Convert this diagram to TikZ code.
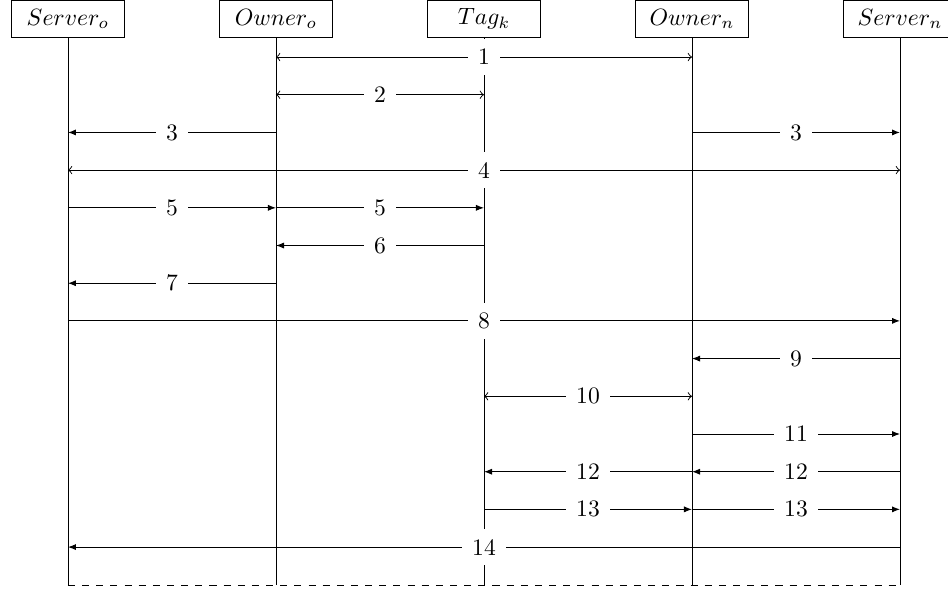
\documentclass[tikz,border=0pt]{standalone}
\usepackage{tikz}
\usetikzlibrary{arrows.meta, calc}
\usepackage{amsmath}

\begin{document}
\begin{tikzpicture}[>=to,
    party/.style={draw, rectangle, minimum width=1.68cm, minimum height=0.55cm, inner sep=0pt},
    num/.style={fill=white, inner sep=4.3pt},
    one/.style={-{Latex[length=3.4pt, width=2.6pt]}},
    both/.style={<->}]
    \useasboundingbox (-1.013,0) rectangle (13.115,-8.793);

    % Define the parties
    \node[party] (so) at (0,-0.283) {$Server_o$};
    \node[party] (oo) at (3.1,-0.283) {$Owner_o$};
    \node[party] (tk) at (6.2,-0.283) {$Tag_k$};
    \node[party] (on) at (9.3,-0.283) {$Owner_n$};
    \node[party] (sn) at (12.4,-0.283) {$Server_n$};

    % Define the message rows
    \coordinate (r1) at (0,-0.85);
    \coordinate (r2) at (0,-1.412);
    \coordinate (r3) at (0,-1.974);
    \coordinate (r4) at (0,-2.535);
    \coordinate (r5) at (0,-3.097);
    \coordinate (r6) at (0,-3.659);
    \coordinate (r7) at (0,-4.221);
    \coordinate (r8) at (0,-4.782);
    \coordinate (r9) at (0,-5.344);
    \coordinate (r10) at (0,-5.906);
    \coordinate (r11) at (0,-6.468);
    \coordinate (r12) at (0,-7.030);
    \coordinate (r13) at (0,-7.591);
    \coordinate (r14) at (0,-8.153);
    \coordinate (end) at (0,-8.72);

    % Draw the lifelines
    \draw (so.south) -- (so |- end);
    \draw (oo.south) -- (oo |- end);
    \draw (tk.south) -- (tk |- end);
    \draw (on.south) -- (on |- end);
    \draw (sn.south) -- (sn |- end);
    \draw[dashed] (so |- end) -- (sn |- end);

    % Draw the messages
    \draw[both] (oo |- r1) -- node[num] {1} (on |- r1);
    \draw[both] (oo |- r2) -- node[num] {2} (tk |- r2);
    \draw[one] (oo |- r3) -- node[num] {3} (so |- r3);
    \draw[one] (on |- r3) -- node[num] {3} (sn |- r3);
    \draw[both] (so |- r4) -- node[num] {4} (sn |- r4);
    \draw[one] (so |- r5) -- node[num] {5} (oo |- r5);
    \draw[one] (oo |- r5) -- node[num] {5} (tk |- r5);
    \draw[one] (tk |- r6) -- node[num] {6} (oo |- r6);
    \draw[one] (oo |- r7) -- node[num] {7} (so |- r7);
    \draw[one] (so |- r8) -- node[num] {8} (sn |- r8);
    \draw[one] (sn |- r9) -- node[num] {9} (on |- r9);
    \draw[both] (tk |- r10) -- node[num] {10} (on |- r10);
    \draw[one] (on |- r11) -- node[num] {11} (sn |- r11);
    \draw[one] (on |- r12) -- node[num] {12} (tk |- r12);
    \draw[one] (sn |- r12) -- node[num] {12} (on |- r12);
    \draw[one] (tk |- r13) -- node[num] {13} (on |- r13);
    \draw[one] (on |- r13) -- node[num] {13} (sn |- r13);
    \draw[one] (sn |- r14) -- node[num] {14} (so |- r14);
\end{tikzpicture}
\end{document}
